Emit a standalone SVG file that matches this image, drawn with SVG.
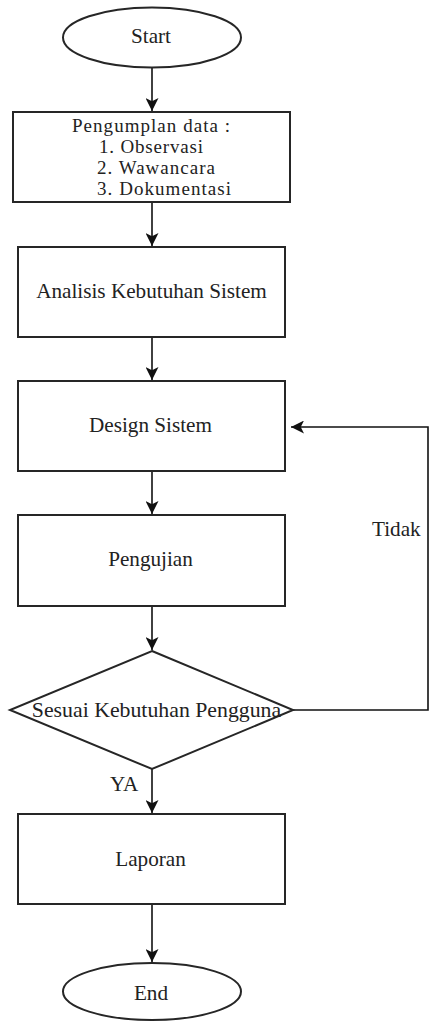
<svg xmlns="http://www.w3.org/2000/svg" width="429" height="1021" viewBox="0 0 429 1021" font-family="'Liberation Serif', 'Times New Roman', serif" font-size="21.2">
<defs>
<style>
.shape{fill:#fff;stroke:#262626;stroke-width:2}
.line{fill:none;stroke:#111;stroke-width:1.6}
.t{font-family:"Liberation Serif","Times New Roman",serif;font-size:21.2px;fill:#222}
.c{text-anchor:middle}
.big{font-size:21.8px}
.sm{font-size:19px}
</style>
<marker id="ah" markerUnits="userSpaceOnUse" markerWidth="13" markerHeight="13" refX="12" refY="6" orient="auto" viewBox="0 0 12 12">
<path d="M0,0 L12,6 L0,12 L3,6 Z" fill="#111"/>
</marker>
</defs>
<rect width="429" height="1021" fill="#fff"/>
<g id="connectors">
<line class="line" x1="152" y1="68" x2="152" y2="111" marker-end="url(#ah)"/>
<line class="line" x1="152" y1="202" x2="152" y2="246" marker-end="url(#ah)"/>
<line class="line" x1="152" y1="337" x2="152" y2="380" marker-end="url(#ah)"/>
<line class="line" x1="152" y1="471" x2="152" y2="514" marker-end="url(#ah)"/>
<line class="line" x1="152" y1="606" x2="152" y2="650" marker-end="url(#ah)"/>
<line class="line" x1="152" y1="769" x2="152" y2="813" marker-end="url(#ah)"/>
<line class="line" x1="152" y1="904" x2="152" y2="962" marker-end="url(#ah)"/>
<polyline class="line" points="293,710 428,710 428,427 291,427" marker-end="url(#ah)"/>
<text class="t" x="372" y="536">Tidak</text>
<text class="t" x="110" y="791">YA</text>
</g>
<g id="start">
<ellipse class="shape" cx="152" cy="37.5" rx="89" ry="30"/>
<text class="t c" x="151" y="43">Start</text>
</g>
<g id="pengumpulan">
<rect class="shape" x="13" y="112" width="277" height="90"/>
<text class="t sm" x="72" y="132" textLength="158" lengthAdjust="spacing">Pengumplan data :</text>
<text class="t sm" x="99" y="153" textLength="104" lengthAdjust="spacing">1. Observasi</text>
<text class="t sm" x="97" y="174" textLength="118" lengthAdjust="spacing">2. Wawancara</text>
<text class="t sm" x="97" y="195" textLength="134" lengthAdjust="spacing">3. Dokumentasi</text>
</g>
<g id="analisis">
<rect class="shape" x="18" y="247" width="267" height="90"/>
<text class="t c" x="151.5" y="298">Analisis Kebutuhan Sistem</text>
</g>
<g id="design">
<rect class="shape" x="18" y="381" width="267" height="90"/>
<text class="t c" x="150.5" y="432">Design Sistem</text>
</g>
<g id="pengujian">
<rect class="shape" x="18" y="515" width="267" height="91"/>
<text class="t c" x="150.5" y="566">Pengujian</text>
</g>
<g id="keputusan">
<polygon class="shape" points="152,651 293,710 152,769 10,710"/>
<text class="t c big" x="156.5" y="717">Sesuai Kebutuhan Pengguna</text>
</g>
<g id="laporan">
<rect class="shape" x="18" y="814" width="267" height="90"/>
<text class="t c" x="150.5" y="866">Laporan</text>
</g>
<g id="end">
<ellipse class="shape" cx="152" cy="991.5" rx="89" ry="28.5"/>
<text class="t c" x="151" y="1000">End</text>
</g>
</svg>
